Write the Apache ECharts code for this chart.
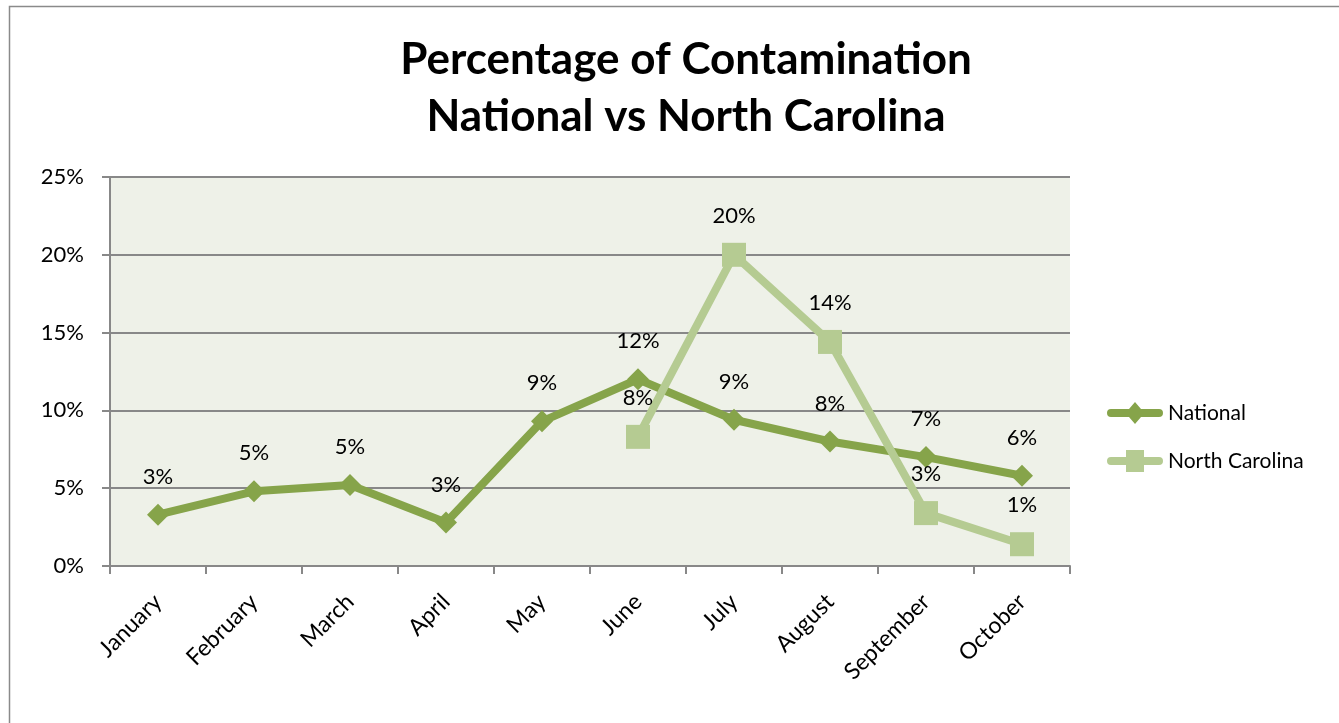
<!DOCTYPE html>
<html>
<head>
<meta charset="utf-8">
<script src="https://cdn.jsdelivr.net/npm/echarts@6/dist/echarts.min.js"></script>
<style>
html,body{margin:0;padding:0;background:#fff;}
#chart{width:1339px;height:723px;}
</style>
</head>
<body>
<div id="chart"></div>
<script>
const categories = ['January','February','March','April','May','June','July','August','September','October'];
const nationalValues = [3.3, 4.8, 5.2, 2.8, 9.3, 12.0, 9.4, 8.0, 7.0, 5.8];
const northCarolinaValues = [null, null, null, null, null, 8.3, 20.0, 14.4, 3.4, 1.4];
const yTicks = [0, 5, 10, 15, 20, 25];

const FONT = 'Lato, "Liberation Sans", sans-serif';
const diamondIcon = 'path://M4,7 L22,7 L28,0 L34,7 L52,7 A4,4 0 0 1 52,15 L34,15 L28,22 L22,15 L4,15 A4,4 0 0 1 4,7 Z';
const squareIcon = 'path://M4,7 L19,7 L19,0 L37,0 L37,7 L52,7 A4,4 0 0 1 52,15 L37,15 L37,22 L19,22 L19,15 L4,15 A4,4 0 0 1 4,7 Z';

const chart = echarts.init(document.getElementById('chart'));
chart.setOption({
  animation: false,
  backgroundColor: '#ffffff',
  title: {
    text: 'Percentage of Contamination\nNational vs North Carolina',
    left: 681, top: 26, textAlign: 'center',
    textStyle: {fontFamily: FONT, fontSize: 44, fontWeight: 'bold', color: '#000', lineHeight: 57}
  },
  graphic: [{
    type: 'rect', shape: {x: 9.5, y: 6.5, width: 1400, height: 800},
    style: {fill: 'none', stroke: '#8a8a8a', lineWidth: 1.5}, silent: true
  }],
  legend: {
    orient: 'vertical', left: 1102, top: 397, itemGap: 26,
    itemWidth: 56, itemHeight: 22,
    textStyle: {fontFamily: FONT, fontSize: 21, color: '#000'},
    data: [
      {name: 'National', icon: diamondIcon},
      {name: 'North Carolina', icon: squareIcon}
    ]
  },
  grid: {left: 110, right: 269, top: 177, bottom: 157, show: true, backgroundColor: '#eef1e8', borderWidth: 0},
  xAxis: {
    type: 'category', data: categories, boundaryGap: true,
    axisLine: {lineStyle: {color: '#888', width: 2}},
    axisTick: {show: true, length: 8, lineStyle: {color: '#888', width: 2}},
    axisLabel: {rotate: 45, fontFamily: FONT, fontSize: 23, color: '#000', margin: 32, interval: 0}
  },
  yAxis: {
    type: 'value', min: yTicks[0], max: yTicks[yTicks.length-1], interval: 5,
    axisLine: {show: true, lineStyle: {color: '#888', width: 2}},
    axisTick: {show: true, length: 8, lineStyle: {color: '#888', width: 2}},
    splitLine: {lineStyle: {color: '#888', width: 2}},
    axisLabel: {formatter: '{value}%', fontFamily: FONT, fontSize: 22, color: '#000', margin: 26}
  },
  series: [
    {
      name: 'National', type: 'line', data: nationalValues,
      symbol: 'diamond', symbolSize: 22,
      lineStyle: {color: '#86a44a', width: 8},
      itemStyle: {color: '#86a44a'},
      label: {show: true, position: 'top', distance: 16, fontFamily: FONT, fontSize: 22, color: '#000',
        formatter: p => Math.round(p.value) + '%'}
    },
    {
      name: 'North Carolina', type: 'line', data: northCarolinaValues,
      symbol: 'rect', symbolSize: 24,
      lineStyle: {color: '#b5cb92', width: 8},
      itemStyle: {color: '#b5cb92'},
      label: {show: true, position: 'top', distance: 16, fontFamily: FONT, fontSize: 22, color: '#000',
        formatter: p => Math.round(p.value) + '%'}
    }
  ]
});
</script>
</body>
</html>
